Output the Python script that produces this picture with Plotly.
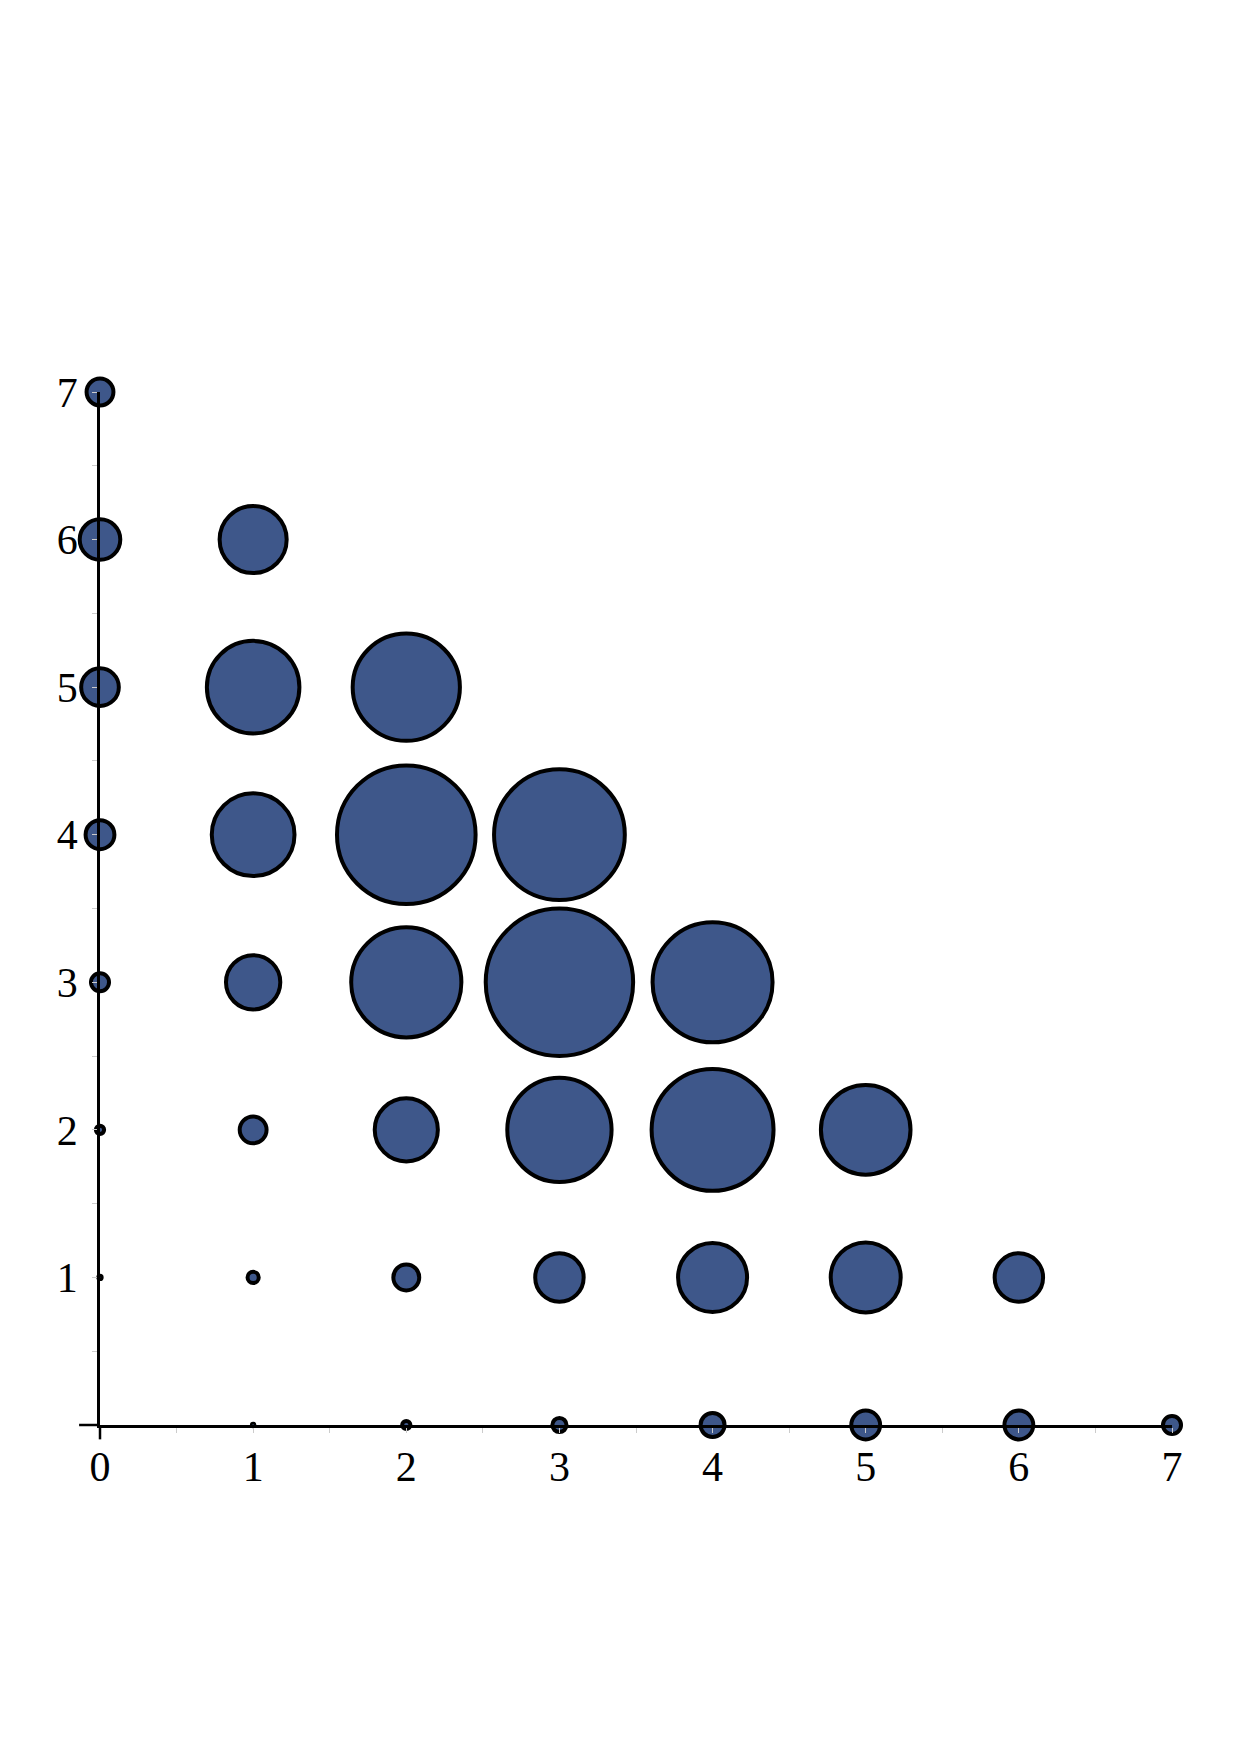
import plotly.graph_objects as go

# data: grid positions and bubble weights (area-proportional)
x_pos = [1, 2, 3, 4, 5, 6, 7,
         0, 1, 2, 3, 4, 5, 6,
         0, 1, 2, 3, 4, 5,
         0, 1, 2, 3, 4,
         0, 1, 2, 3,
         0, 1, 2,
         0, 1,
         0]
y_pos = [0, 0, 0, 0, 0, 0, 0,
         1, 1, 1, 1, 1, 1, 1,
         2, 2, 2, 2, 2, 2,
         3, 3, 3, 3, 3,
         4, 4, 4, 4,
         5, 5, 5,
         6, 6,
         7]
weights = [0.06, 0.68, 2.0, 5.73, 8.32, 8.32, 3.26,
           0.11, 1.25, 6.71, 23.46, 47.64, 49.0, 23.46,
           0.68, 7.23, 39.87, 108.8, 148.7, 80.28,
           3.26, 29.51, 121.4, 217.3, 144.0,
           8.32, 68.46, 192.1, 171.0,
           14.18, 85.64, 115.0,
           16.48, 44.97,
           7.23]

x_ticks = [0, 1, 2, 3, 4, 5, 6, 7]
y_ticks = [1, 2, 3, 4, 5, 6, 7]

FILL = "#3e578a"
FONT = dict(family="Liberation Serif, Times New Roman, serif", size=42, color="black")

fig = go.Figure(go.Scatter(
    x=x_pos, y=y_pos, mode="markers",
    marker=dict(size=weights, sizemode="area", sizeref=0.02, opacity=1,
                color=FILL, line=dict(color="black", width=4)),
    cliponaxis=False, hoverinfo="skip",
))

axis_common = dict(
    showgrid=False, zeroline=False, showline=True, linecolor="black", linewidth=2.5,
    ticks="outside", ticklen=5, tickwidth=1, tickcolor="#cccccc",
    tickfont=FONT, fixedrange=True,
    minor=dict(tickmode="linear", tick0=0, dtick=0.5, ticks="outside",
               ticklen=5, tickwidth=1, tickcolor="#cccccc"),
)

fig.update_xaxes(range=[0, 7], tickmode="array", tickvals=x_ticks,
                 ticktext=[str(v) for v in x_ticks], ticklabelstandoff=-2, **axis_common)
fig.update_yaxes(range=[0, 7], tickmode="array", tickvals=y_ticks,
                 ticktext=[str(v) for v in y_ticks], ticklabelstandoff=6, **axis_common)

# small extensions of the axes past the origin
fig.add_shape(type="line", xref="paper", yref="paper", x0=-0.0195, x1=0, y0=0, y1=0,
              line=dict(color="black", width=2.5), layer="above")
fig.add_shape(type="line", xref="paper", yref="paper", x0=0, x1=0, y0=-0.0139, y1=0,
              line=dict(color="black", width=2.5), layer="above")

fig.update_layout(
    width=1240, height=1755,
    margin=dict(l=100, r=68, t=392, b=330, pad=0),
    paper_bgcolor="white", plot_bgcolor="white",
    showlegend=False,
)

fig.write_html("out.html")
